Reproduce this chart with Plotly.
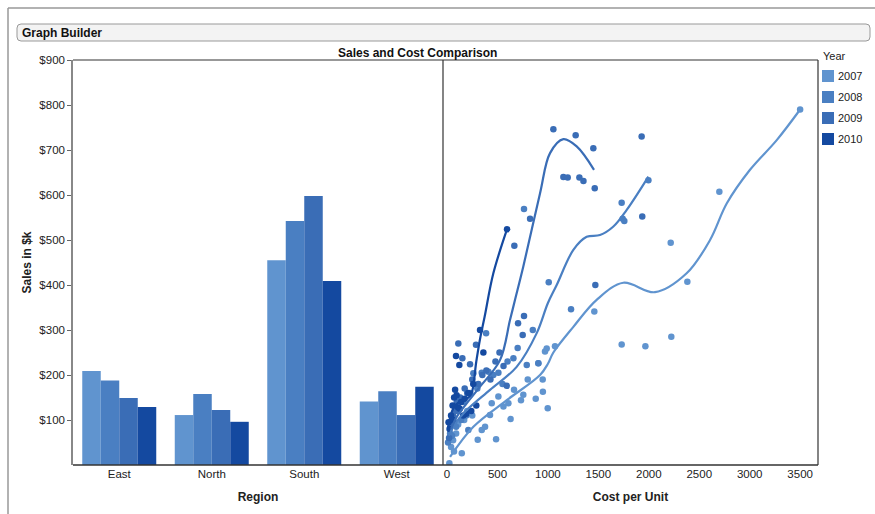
import plotly.graph_objects as go

# ---------------- data ----------------
regions = ["East", "North", "South", "West"]
years = ["2007", "2008", "2009", "2010"]
sales_2007 = [209, 111, 455, 141]
sales_2008 = [188, 158, 542, 164]
sales_2009 = [149, 122, 598, 111]
sales_2010 = [129, 96, 409, 174]

cost_2007 = [23, 40, 60, 69, 90, 110, 146, 170, 200, 250, 304, 344, 377, 426, 443, 486, 509, 559, 608, 630,
             664, 733, 756, 800, 879, 905, 948, 950, 971, 988, 998, 1070, 1460, 1731, 1966, 2223, 2217, 2382, 2699, 3500]
scost_2007 = [4, 40, 55, 30, 70, 90, 26, 100, 120, 110, 56, 78, 85, 111, 137, 57, 152, 130, 137, 102,
              167, 144, 156, 190, 147, 226, 190, 163, 252, 259, 126, 264, 341, 268, 264, 285, 494, 407, 607, 790]

cost_2008 = [10, 30, 50, 70, 90, 110, 140, 160, 190, 211, 230, 261, 300, 344, 387, 410, 459, 509, 550, 600,
             658, 700, 763, 790, 850, 905, 1008, 1229, 1731, 1741, 1757, 1996]
scost_2008 = [50, 70, 65, 95, 85, 120, 100, 140, 110, 78, 160, 204, 170, 205, 293, 207, 200, 205, 180, 230,
              237, 260, 569, 222, 300, 226, 406, 346, 583, 547, 542, 633]

cost_2009 = [20, 40, 60, 80, 96, 112, 130, 152, 175, 200, 228, 250, 287, 310, 350, 390, 430, 480, 520, 560,
             592, 667, 704, 750, 763, 823, 1054, 1153, 1196, 1275, 1312, 1352, 1450, 1464, 1470, 1929, 1935]
scost_2009 = [60, 90, 110, 120, 140, 270, 150, 237, 170, 160, 224, 190, 267, 180, 200, 210, 190, 230, 250, 220,
              176, 487, 315, 289, 331, 547, 746, 640, 639, 733, 639, 631, 704, 615, 400, 730, 552]

cost_2010 = [15, 25, 40, 55, 60, 70, 80, 89, 95, 110, 122, 126, 140, 160, 175, 190, 210, 240, 260, 290, 327, 360, 595]
scost_2010 = [95, 80, 110, 132, 100, 150, 167, 242, 155, 128, 222, 125, 140, 110, 147, 114, 160, 120, 180, 132, 300, 250, 524]

# smoother curves
fit_x_2007 = [30, 261, 592, 922, 1000, 1054, 1252, 1483, 1747, 2061, 2375, 2607, 2772, 3003, 3268, 3500]
fit_y_2007 = [18, 85, 144, 200, 225, 250, 307, 367, 405, 384, 426, 500, 581, 656, 722, 790]
fit_x_2008 = [20, 60, 195, 426, 690, 889, 1000, 1087, 1252, 1384, 1516, 1649, 1781, 1996]
fit_y_2008 = [65, 85, 122, 167, 218, 293, 360, 400, 478, 507, 511, 530, 567, 641]
fit_x_2009 = [40, 96, 195, 327, 525, 624, 674, 756, 922, 1021, 1153, 1285, 1457]
fit_y_2009 = [80, 107, 137, 174, 233, 322, 367, 441, 604, 693, 724, 708, 656]
fit_x_2010 = [10, 60, 120, 200, 241, 290, 327, 373, 459, 595]
fit_y_2010 = [84, 125, 140, 148, 158, 230, 280, 330, 426, 524]

y_ticks = [100, 200, 300, 400, 500, 600, 700, 800, 900]
y_ticktext = ["$100", "$200", "$300", "$400", "$500", "$600", "$700", "$800", "$900"]
x2_ticks = [0, 500, 1000, 1500, 2000, 2500, 3000, 3500]

colors = ["#6094CF", "#4A7FC2", "#3A6DB6", "#1449A0"]

sales = [sales_2007, sales_2008, sales_2009, sales_2010]
costs = [cost_2007, cost_2008, cost_2009, cost_2010]
scosts = [scost_2007, scost_2008, scost_2009, scost_2010]
fxs = [fit_x_2007, fit_x_2008, fit_x_2009, fit_x_2010]
fys = [fit_y_2007, fit_y_2008, fit_y_2009, fit_y_2010]

fig = go.Figure()
for i, yr in enumerate(years):
    fig.add_trace(go.Bar(x=regions, y=sales[i], name=yr, marker=dict(color=colors[i], line=dict(width=0)),
                         xaxis="x", yaxis="y", showlegend=False))
for i, yr in enumerate(years):
    fig.add_trace(go.Scatter(x=costs[i], y=scosts[i], mode="markers", name=yr, showlegend=False,
                             marker=dict(color=colors[i], size=6.5), xaxis="x2", yaxis="y"))
for i, yr in enumerate(years):
    fig.add_trace(go.Scatter(x=fxs[i], y=fys[i], mode="lines", name=yr, showlegend=False,
                             line=dict(color=colors[i], width=2.2, shape="spline", smoothing=1.0),
                             xaxis="x2", yaxis="y"))

L, R, T, B = 73, 57, 60, 49
W, H = 875, 514
pw, ph = W - L - R, H - T - B
split = (443 - L) / pw

def px(xp):
    return (xp - L) / pw

def py(yp):
    return (H - B - yp) / ph

font_family = "Liberation Sans, Arial, sans-serif"

fig.update_layout(
    width=W, height=H,
    margin=dict(l=L, r=R, t=T, b=B, autoexpand=False),
    paper_bgcolor="white", plot_bgcolor="white",
    font=dict(family=font_family, size=11, color="#222"),
    barmode="group", bargap=0.2, bargroupgap=0,
    xaxis=dict(domain=[0, split], showgrid=False, zeroline=False, showline=False, automargin=False,
               ticks="", tickfont=dict(size=11.5), anchor="y",
               title=dict(text="<b>Region</b>", font=dict(size=12), standoff=14)),
    xaxis2=dict(domain=[split, 1], range=[-40, 3677], showgrid=False, zeroline=False, showline=False,
                automargin=False, tickvals=x2_ticks, ticks="",
                tickfont=dict(size=11.5), anchor="y",
                title=dict(text="<b>Cost per Unit</b>", font=dict(size=12), standoff=14)),
    yaxis=dict(range=[0, 900], showgrid=False, zeroline=False, showline=True, linecolor="#888",
               automargin=False,
               linewidth=1.5, tickvals=y_ticks, ticktext=y_ticktext, ticks="outside", ticklen=4,
               tickcolor="#666", tickfont=dict(size=11.5),
               title=dict(text="<b>Sales in $k</b>", font=dict(size=12), standoff=5)),
    showlegend=False,
)

shapes = []
# outer window border
shapes.append(dict(type="line", xref="paper", yref="paper", x0=px(8), x1=px(875), y0=py(8), y1=py(8),
                   line=dict(color="#999", width=1.5)))
shapes.append(dict(type="line", xref="paper", yref="paper", x0=px(8), x1=px(8), y0=py(8), y1=py(514),
                   line=dict(color="#999", width=1.5)))
# header box (rounded)
hx0, hx1, hy0, hy1, r = 17, 870, 24, 41, 4
path = (f"M {px(hx0 + r)},{py(hy0)} L {px(hx1 - r)},{py(hy0)} "
        f"Q {px(hx1)},{py(hy0)} {px(hx1)},{py(hy0 + r)} L {px(hx1)},{py(hy1 - r)} "
        f"Q {px(hx1)},{py(hy1)} {px(hx1 - r)},{py(hy1)} L {px(hx0 + r)},{py(hy1)} "
        f"Q {px(hx0)},{py(hy1)} {px(hx0)},{py(hy1 - r)} L {px(hx0)},{py(hy0 + r)} "
        f"Q {px(hx0)},{py(hy0)} {px(hx0 + r)},{py(hy0)} Z")
shapes.append(dict(type="path", xref="paper", yref="paper", path=path,
                   line=dict(color="#999", width=1), fillcolor="#f3f3f3", layer="below"))
# plot frame
shapes.append(dict(type="line", xref="paper", yref="paper", x0=0, x1=1, y0=1, y1=1,
                   line=dict(color="#333", width=1.2)))
shapes.append(dict(type="line", xref="paper", yref="paper", x0=0, x1=1, y0=0, y1=0,
                   line=dict(color="#333", width=1.5)))
shapes.append(dict(type="line", xref="paper", yref="paper", x0=1, x1=1, y0=0, y1=1,
                   line=dict(color="#333", width=1.2)))
shapes.append(dict(type="line", xref="paper", yref="paper", x0=split, x1=split, y0=0, y1=1,
                   line=dict(color="#333", width=1.2)))
# legend swatches
for i, yr in enumerate(years):
    cy = 76 + 21 * i
    shapes.append(dict(type="rect", xref="paper", yref="paper", x0=px(822), x1=px(834),
                       y0=py(cy + 6), y1=py(cy - 6), fillcolor=colors[i], line=dict(width=0)))
    fig.add_annotation(text=yr, xref="paper", yref="paper", x=px(836), y=py(cy),
                       xanchor="left", yanchor="middle", showarrow=False, font=dict(size=11, color="#222"))
fig.add_annotation(text="Year", xref="paper", yref="paper", x=px(821), y=py(56),
                   xanchor="left", yanchor="middle", showarrow=False, font=dict(size=11, color="#222"))
fig.update_layout(shapes=shapes)

fig.add_annotation(text="<b>Graph Builder</b>", xref="paper", yref="paper", x=px(20), y=py(33),
                   xanchor="left", yanchor="middle", showarrow=False, font=dict(size=12, color="#111"))
fig.add_annotation(text="<b>Sales and Cost Comparison</b>", xref="paper", yref="paper", x=px(417), y=py(53),
                   xanchor="center", yanchor="middle", showarrow=False, font=dict(size=12, color="#111"))

fig.write_html("out.html", config={"displayModeBar": False},
               post_script="document.body.style.margin='0px';")
